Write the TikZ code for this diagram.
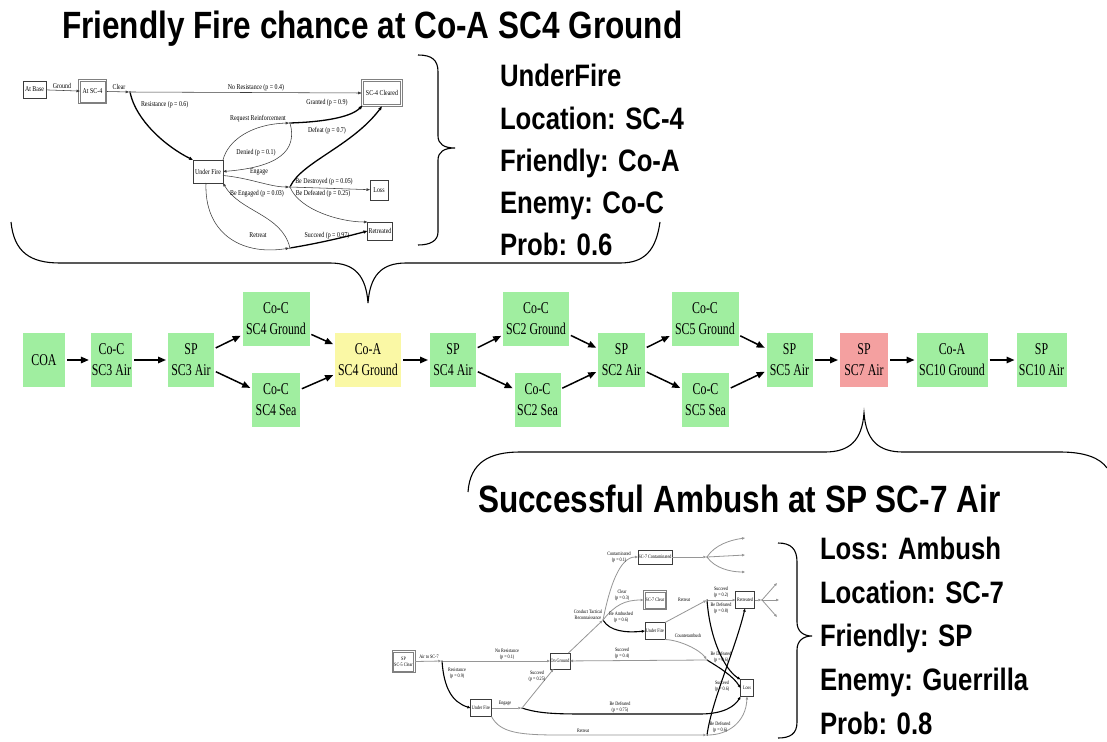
\documentclass[tikz,border=0pt]{standalone}
\usepackage{fontspec}
\usetikzlibrary{arrows.meta}
\newfontfamily\hfont[FakeStretch=0.83]{Liberation Sans}
\newfontfamily\tfont[FakeStretch=0.72]{Liberation Serif}
\newfontfamily\ifont[FakeStretch=0.80]{Liberation Serif}
\definecolor{boxgreen}{RGB}{160,238,160}
\definecolor{boxyellow}{RGB}{250,248,165}
\definecolor{boxred}{RGB}{244,160,160}
\definecolor{ink}{RGB}{60,60,60}
\definecolor{lgray}{RGB}{150,150,150}
\begin{document}
\begin{tikzpicture}[x=1pt,y=-1pt,
  every node/.style={inner sep=0pt, outer sep=0pt},
  head/.style={font=\hfont\bfseries\fontsize{38}{40}\selectfont, anchor=base west},
  info/.style={font=\hfont\bfseries\fontsize{31}{33}\selectfont, anchor=base west},
  mbox/.style={fill=boxgreen, minimum height=54pt, inner xsep=1pt, align=center, font=\tfont\fontsize{16.5}{21}\selectfont},
  marr/.style={line width=1.5pt, -{Triangle[length=8pt,width=6.5pt]}, shorten >=2pt, shorten <=2pt},
  brace/.style={line width=1.1pt, draw=black},
  tbox/.style={draw=ink, fill=white, line width=0.55pt, font=\ifont\fontsize{7.4}{8.4}\selectfont, align=center},
  tlbl/.style={font=\ifont\fontsize{7.4}{8.4}\selectfont, align=center},
  tthin/.style={draw=ink, line width=0.55pt, -{Triangle[length=3.5pt,width=2.6pt]}},
  tbold/.style={draw=black, line width=1.3pt, -{Triangle[length=4pt,width=3pt]}},
  frame/.style={draw=gray, line width=0.8pt},
  junc/.style={circle, fill=black, minimum size=1.8pt},
  sbox/.style={draw=ink, fill=white, line width=0.45pt, font=\ifont\fontsize{5.2}{5.8}\selectfont, align=center},
  slbl/.style={font=\ifont\fontsize{5.2}{5.8}\selectfont, align=center},
  sthin/.style={draw=lgray, line width=0.8pt, -{Triangle[length=3pt,width=2.4pt]}},
  sbold/.style={draw=black, line width=1.1pt, -{Triangle[length=3.2pt,width=2.6pt]}},
  sjunc/.style={circle, fill=black, minimum size=1.5pt}
]
\path[use as bounding box, fill=white] (0,0) rectangle (1107,741);

% ---------- titles and info ----------
\node[head] (title1) at (62,39) {Friendly Fire chance at Co-A SC4 Ground};
\node[info] (i1a) at (500,87) {UnderFire};
\node[info] (i1b) at (500,129) {Location: SC-4};
\node[info] (i1c) at (500,171) {Friendly: Co-A};
\node[info] (i1d) at (500,213) {Enemy: Co-C};
\node[info] (i1e) at (500,255) {Prob: 0.6};

\node[head] (title2) at (478,512) {Successful Ambush at SP SC-7 Air};
\node[info] (i2a) at (820,559) {Loss: Ambush};
\node[info] (i2b) at (820,603) {Location: SC-7};
\node[info] (i2c) at (820,646) {Friendly: SP};
\node[info] (i2d) at (820,690) {Enemy: Guerrilla};
\node[info] (i2e) at (820,734) {Prob: 0.8};

% ---------- braces ----------
\draw[brace] (418,55) .. controls (432,55) and (438,60) .. (438,72) -- (438,136)
  .. controls (438,144) and (444,148) .. (455,148)
  .. controls (444,148) and (438,152) .. (438,160) -- (438,232)
  .. controls (438,241) and (430,245) .. (418,245);
\draw[brace] (11,222) .. controls (14,252) and (30,263) .. (60,263) -- (330,263)
  .. controls (355,263) and (366,276) .. (368,303)
  .. controls (370,276) and (381,263) .. (406,263) -- (620,263)
  .. controls (645,263) and (656,250) .. (660,222);
\draw[brace] (468,492) .. controls (470,462) and (490,452) .. (520,452) -- (825,452)
  .. controls (850,452) and (862,440) .. (864,413)
  .. controls (866,440) and (878,452) .. (903,452) -- (1060,452)
  .. controls (1085,452) and (1100,458) .. (1107,468);
\draw[brace] (778,543) .. controls (791,543) and (797,549) .. (797,562) -- (797,622)
  .. controls (797,631) and (803,636) .. (812,636)
  .. controls (803,636) and (797,641) .. (797,650) -- (797,722)
  .. controls (797,734) and (790,738) .. (778,738);

% ---------- middle row ----------
\node[mbox, minimum width=42pt] (coa) at (44,360) {COA};
\node[mbox, minimum width=37pt] (c3a) at (111.5,360) {Co-C\\SC3 Air};
\node[mbox, minimum width=46pt] (sp3) at (191,360) {SP\\SC3 Air};
\node[mbox, minimum width=67pt] (c4g) at (276,318.5) {Co-C\\SC4 Ground};
\node[mbox, minimum width=48pt] (c4s) at (276,400) {Co-C\\SC4 Sea};
\node[mbox, minimum width=66pt, fill=boxyellow] (a4g) at (368,360) {Co-A\\SC4 Ground};
\node[mbox, minimum width=46pt] (sp4) at (453,360) {SP\\SC4 Air};
\node[mbox, minimum width=66pt] (c2g) at (536,318.5) {Co-C\\SC2 Ground};
\node[mbox, minimum width=46pt] (c2s) at (537.5,400) {Co-C\\SC2 Sea};
\node[mbox, minimum width=47pt] (sp2) at (621.5,360) {SP\\SC2 Air};
\node[mbox, minimum width=67pt] (c5g) at (705,318.5) {Co-C\\SC5 Ground};
\node[mbox, minimum width=47pt] (c5s) at (705.5,400) {Co-C\\SC5 Sea};
\node[mbox, minimum width=46pt] (sp5) at (789.5,360) {SP\\SC5 Air};
\node[mbox, minimum width=48pt, fill=boxred] (sp7) at (864,360) {SP\\SC7 Air};
\node[mbox, minimum width=71pt] (a10) at (952,360) {Co-A\\SC10 Ground};
\node[mbox, minimum width=50pt] (sp10) at (1041.5,360) {SP\\SC10 Air};

\draw[marr] (coa) -- (c3a);
\draw[marr] (c3a) -- (sp3);
\draw[marr] (sp3) -- (c4g);
\draw[marr] (sp3) -- (c4s);
\draw[marr] (c4g) -- (a4g);
\draw[marr] (c4s) -- (a4g);
\draw[marr] (a4g) -- (sp4);
\draw[marr] (sp4) -- (c2g);
\draw[marr] (sp4) -- (c2s);
\draw[marr] (c2g) -- (sp2);
\draw[marr] (c2s) -- (sp2);
\draw[marr] (sp2) -- (c5g);
\draw[marr] (sp2) -- (c5s);
\draw[marr] (c5g) -- (sp5);
\draw[marr] (c5s) -- (sp5);
\draw[marr] (sp5) -- (sp7);
\draw[marr] (sp7) -- (a10);
\draw[marr] (a10) -- (sp10);

% ---------- top inset ----------
\node[tbox, minimum width=23pt, minimum height=17pt] (base) at (34.5,89.5) {At Base};
\node[tbox, draw=gray, minimum width=25pt, minimum height=21pt] (sc4) at (92.5,91.5) {At SC-4};
\draw[frame] ([xshift=-1.8pt,yshift=1.8pt]sc4.north west) rectangle ([xshift=1.8pt,yshift=-1.8pt]sc4.south east);
\node[tbox, draw=gray, minimum width=37pt, minimum height=23pt] (clrd) at (382,93) {SC-4 Cleared};
\draw[frame] ([xshift=-1.8pt,yshift=1.8pt]clrd.north west) rectangle ([xshift=1.8pt,yshift=-1.8pt]clrd.south east);
\node[tbox, minimum width=30pt, minimum height=23pt] (uf) at (208,171.5) {Under Fire};
\node[tbox, minimum width=18pt, minimum height=20pt] (loss) at (379,190) {Loss};
\node[tbox, minimum width=25pt, minimum height=18pt] (retd) at (380,231) {Retreated};
\node[junc] (j1) at (130,92) {};
\node[junc] (j2) at (290,123) {};
\node[junc] (j3) at (290,187) {};
\node[junc] (j4) at (290,248) {};

\draw[tthin] (base) -- (sc4);
\draw[tthin] ([xshift=1.8pt]sc4.east) -- (j1);
\draw[tthin] (j1) -- ([xshift=-1.8pt]clrd.west);
\draw[tbold] (j1) .. controls (136,120) and (165,146) .. (uf.north west);
\draw[tthin] (uf.north east) .. controls (228,140) and (252,124) .. (j2);
\draw[tbold] (j2) .. controls (320,122) and (350,118) .. ([xshift=-1pt,yshift=-1pt]clrd.south west);
\draw[tthin] (j2) .. controls (297,150) and (280,167) .. (uf.east);
\draw[tbold] (j3) .. controls (302,162) and (352,146) .. ([yshift=-1.8pt]clrd.south);
\draw[tthin] (uf.east) ++(0,4) .. controls (250,178) and (270,187) .. (j3);
\draw[tthin] (j3) -- (loss);
\draw[tthin] (j3) .. controls (300,210) and (340,222) .. (retd.north west);
\draw[tthin] (uf.south) ++(-2,0) .. controls (204,232) and (240,256) .. (j4);
\draw[tthin] (j4) .. controls (281,214) and (240,212) .. (uf.south east);
\draw[tbold] (j4) .. controls (320,243) and (345,237) .. (retd.west);

\node[tlbl] (lgr) at (62,86) {Ground};
\node[tlbl] (lcl) at (119,87) {Clear};
\node[tlbl] (lnr) at (256,88) {No Resistance (p = 0.4)};
\node[tlbl, anchor=west] (lrs) at (141,105) {Resistance (p = 0.6)};
\node[tlbl] (lrq) at (258,119) {Request Reinforcement};
\node[tlbl] (lgt) at (327,103) {Granted (p = 0.9)};
\node[tlbl] (ldn) at (256,153) {Denied (p = 0.1)};
\node[tlbl] (ldf) at (327,131) {Defeat (p = 0.7)};
\node[tlbl] (leg) at (259,172) {Engage};
\node[tlbl] (lds) at (324,182) {Be Destroyed (p = 0.05)};
\node[tlbl] (lbd) at (323,194) {Be Defeated (p = 0.25)};
\node[tlbl] (lbe) at (257,194) {Be Engaged (p = 0.03)};
\node[tlbl] (lrt) at (258,235) {Retreat};
\node[tlbl] (lsc) at (327,236) {Succeed (p = 0.97)};

% ---------- bottom inset ----------
\node[sbox, draw=gray, minimum width=20pt, minimum height=19pt] (spc) at (403.5,661.5) {SP\\SC-5 Clear};
\draw[frame, line width=0.7pt] ([xshift=-1.5pt,yshift=1.5pt]spc.north west) rectangle ([xshift=1.5pt,yshift=-1.5pt]spc.south east);
\node[sbox, minimum width=20pt, minimum height=16pt] (og) at (560,661) {On Ground};
\node[sbox, minimum width=21pt, minimum height=17pt] (uf2) at (481,708) {Under Fire};
\node[sbox, minimum width=34pt, minimum height=14pt] (cont) at (655,557) {SC-7 Contaminated};
\node[sbox, draw=gray, minimum width=20pt, minimum height=16pt] (clr) at (655,600) {SC-7 Clear};
\draw[frame, line width=0.7pt] ([xshift=-1.5pt,yshift=1.5pt]clr.north west) rectangle ([xshift=1.5pt,yshift=-1.5pt]clr.south east);
\node[sbox, minimum width=20pt, minimum height=17pt] (uf3) at (655,631) {Under Fire};
\node[sbox, minimum width=19pt, minimum height=17pt] (ret) at (745,600) {Retreated};
\node[sbox, minimum width=13pt, minimum height=17pt] (loss2) at (747,688) {Loss};
\node[sjunc] (k1) at (442,661) {};
\node[sjunc] (k2) at (522,708) {};
\node[sjunc] (k3) at (603,620) {};
\node[sjunc] (k4) at (707,557) {};
\node[sjunc] (k5) at (707,600) {};
\node[sjunc] (k6) at (707,660) {};
\node[sjunc] (k7) at (707,735) {};
\node[sjunc] (k8) at (762,600) {};
\coordinate (f1) at (745,538);
\coordinate (f2) at (745,555);
\coordinate (f3) at (745,572);
\coordinate (g1) at (777,583);
\coordinate (g2) at (779,600);
\coordinate (g3) at (777,617);

\draw[sthin] ([xshift=1.5pt]spc.east) -- (k1);
\draw[sthin] (k1) -- (og);
\draw[sbold] (k1) .. controls (444,688) and (452,702) .. (uf2.west);
\draw[sthin] (uf2) -- (k2);
\draw[sthin] (k2) -- (og);
\draw[sbold] (k2) .. controls (540,714) and (560,714) .. (590,714) -- (700,714)
  .. controls (724,714) and (735,706) .. (loss2.south west);
\draw[sthin] (uf2.south east) .. controls (500,733) and (520,735) .. (560,735) -- (k7);
\draw[sthin] (k7) .. controls (728,735) and (746,722) .. (loss2.south);
\draw[sbold] (k7) .. controls (712,700) and (735,650) .. (ret.south);
\draw[sthin] (og) -- (k3);
\draw[sthin] (k3) .. controls (610,585) and (620,557) .. (cont.west);
\draw[sthin] (k3) .. controls (615,605) and (625,600) .. ([xshift=-1.5pt]clr.west);
\draw[sbold] (k3) .. controls (610,631) and (625,633) .. (uf3.west);
\draw[sthin] (cont) -- (k4);
\draw[sthin] (k4) .. controls (715,545) and (730,540) .. (f1);
\draw[sthin] (k4) -- (f2);
\draw[sthin] (k4) .. controls (715,568) and (730,572) .. (f3);
\draw[sthin] (uf3.north east) -- (k5);
\draw[sthin] (k5) -- (ret);
\draw[sbold] (k5) .. controls (710,640) and (725,670) .. (loss2.north west);
\draw[sthin] (ret) -- (k8);
\draw[sthin] (k8) -- (g1);
\draw[sthin] (k8) -- (g2);
\draw[sthin] (k8) -- (g3);
\draw[sthin] (uf3.south east) .. controls (680,640) and (700,650) .. (k6);
\draw[sthin] (k6) -- (og);
\draw[sbold] (k6) .. controls (720,668) and (733,676) .. (loss2.west);

\node[slbl] (m1) at (429,657) {Air to SC-7};
\node[slbl] (m2) at (507,654) {No Resistance\\(p = 0.1)};
\node[slbl] (m3) at (457,673) {Resistance\\(p = 0.9)};
\node[slbl] (m4) at (505,703) {Engage};
\node[slbl] (m5) at (537,676) {Succeed\\(p = 0.25)};
\node[slbl] (m6) at (620,707) {Be Defeated\\(p = 0.75)};
\node[slbl] (m7) at (583,731) {Retreat};
\node[slbl] (m8) at (720,727) {Be Defeated\\(p = 0.6)};
\node[slbl] (m9) at (722,686) {Succeed\\(p = 0.6)};
\node[slbl] (m10) at (588,615) {Conduct Tactical\\Reconnaissance};
\node[slbl] (m11) at (619,557) {Contaminated\\(p = 0.1)};
\node[slbl] (m12) at (622,595) {Clear\\(p = 0.3)};
\node[slbl] (m13) at (621,617) {Be Ambushed\\(p = 0.6)};
\node[slbl] (m14) at (684,600) {Retreat};
\node[slbl] (m15) at (721,592) {Succeed\\(p = 0.2)};
\node[slbl] (m16) at (721,608) {Be Defeated\\(p = 0.8)};
\node[slbl] (m17) at (688,636) {Counterambush};
\node[slbl] (m18) at (622,653) {Succeed\\(p = 0.4)};
\node[slbl] (m19) at (721,657) {Be Defeated\\(p = 0.6)};
\end{tikzpicture}
\end{document}
